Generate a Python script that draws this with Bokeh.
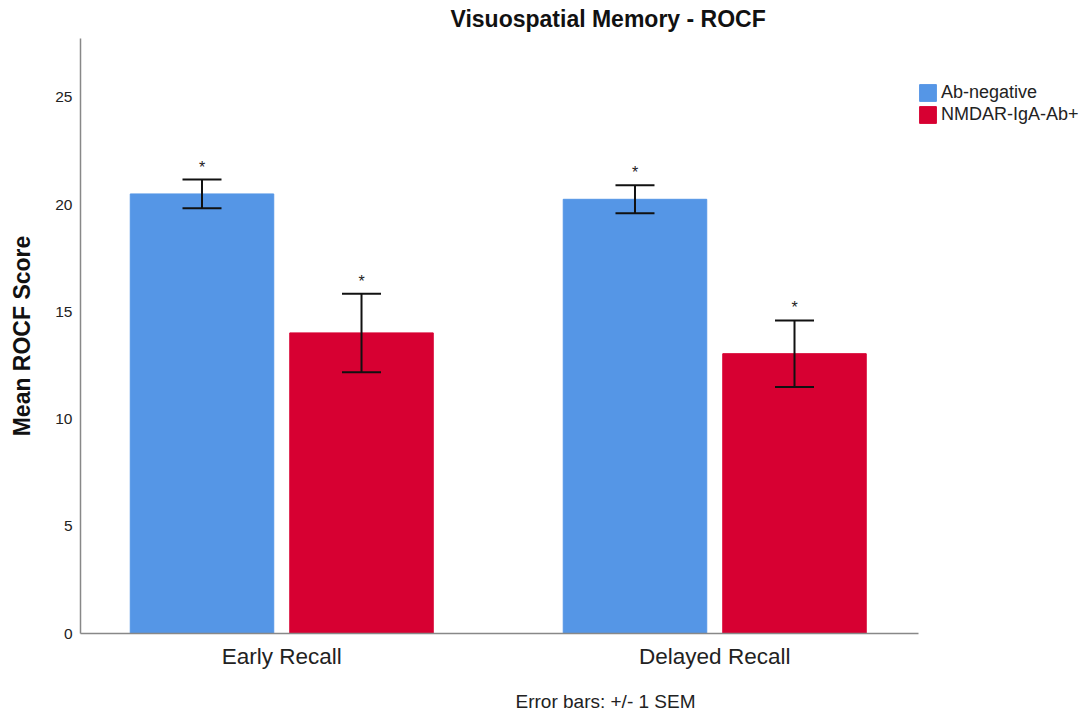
from bokeh.plotting import figure
from bokeh.models import Range1d, FixedTicker, Legend, LegendItem, Title, ColumnDataSource, Whisker
from bokeh.core.properties import value
from bokeh.embed import file_html
from bokeh.resources import INLINE

categories = ["Early Recall", "Delayed Recall"]
groups = ["Ab-negative", "NMDAR-IgA-Ab+"]
ab_negative = [20.5, 20.25]
ab_negative_sem = [0.67, 0.65]
nmdar = [14.02, 13.05]
nmdar_sem = [1.83, 1.55]
colors = ["#5596E6", "#D70032"]
y_ticks = [0, 5, 10, 15, 20, 25]

FONT = "Liberation Sans"
X_START, X_AXIS_END, X_END = -0.4648, 1.4706, 1.8655

p = figure(width=1089, height=711, output_backend="svg", toolbar_location=None,
           x_range=Range1d(X_START, X_END), y_range=Range1d(0, 27.75),
           min_border_left=80, min_border_right=0, min_border_top=38, min_border_bottom=77)
p.title.text = "Visuospatial Memory - ROCF"
p.title.align = "left"
p.title.vertical_align = "top"
p.title.offset = 370
p.title.standoff = 10
p.title.text_font = FONT
p.title.text_font_size = "23px"
p.title.text_font_style = "bold"
p.title.text_color = "#111111"

p.grid.visible = False
p.outline_line_color = None

xs = list(range(len(categories)))
offset = 0.1842
bw = 0.3314
renderers = []
for gi, (vals, sems) in enumerate([(ab_negative, ab_negative_sem), (nmdar, nmdar_sem)]):
    sign = -1 if gi == 0 else 1
    bx = [x + sign * offset for x in xs]
    src = ColumnDataSource(dict(x=bx, top=vals,
                                upper=[v + s for v, s in zip(vals, sems)],
                                lower=[v - s for v, s in zip(vals, sems)],
                                star=["*"] * len(vals)))
    r = p.vbar(x="x", top="top", width=bw, bottom=0, source=src,
               fill_color=colors[gi], line_color=colors[gi], line_width=1)
    renderers.append(r)
    w = Whisker(base="x", upper="upper", lower="lower", source=src,
                line_color="#111111", line_width=2, level="overlay")
    w.upper_head.size = 39
    w.lower_head.size = 39
    w.upper_head.line_width = 2
    w.lower_head.line_width = 2
    w.upper_head.line_color = "#111111"
    w.lower_head.line_color = "#111111"
    p.add_layout(w)
    p.text(x="x", y="upper", text="star", source=src, text_align="center",
           text_baseline="bottom", y_offset=-4, text_font=value(FONT),
           text_font_size="16px", text_color="#222222")

p.xaxis.ticker = FixedTicker(ticks=xs)
p.xaxis.major_label_overrides = {i: c for i, c in enumerate(categories)}
p.xaxis.bounds = (X_START, X_AXIS_END)
p.yaxis.ticker = FixedTicker(ticks=y_ticks)
for ax in (p.xaxis, p.yaxis):
    ax.major_tick_line_color = None
    ax.minor_tick_line_color = None
    ax.major_tick_out = 0
    ax.major_tick_in = 0
    ax.minor_tick_out = 0
    ax.minor_tick_in = 0
    ax.axis_line_color = "#888888"
    ax.axis_line_width = 1.5
    ax.major_label_text_font = FONT
    ax.major_label_text_color = "#222222"
p.xaxis.major_label_text_font_size = "22.5px"
p.xaxis.major_label_standoff = 10
p.yaxis.major_label_text_font_size = "15.5px"
p.yaxis.major_label_standoff = 8
p.yaxis.axis_label = "Mean ROCF Score"
p.yaxis.axis_label_text_font = FONT
p.yaxis.axis_label_text_font_size = "23px"
p.yaxis.axis_label_text_font_style = "bold"
p.yaxis.axis_label_text_color = "#111111"
p.yaxis.axis_label_standoff = 17

legend = Legend(items=[LegendItem(label=g, renderers=[r]) for g, r in zip(groups, renderers)],
                location=(837, 508), label_text_font=FONT, label_text_font_size="18px",
                label_text_color="#222222", border_line_color=None, background_fill_alpha=0,
                glyph_width=21, glyph_height=21, label_height=21, spacing=1,
                padding=0, margin=0, label_standoff=3)
p.add_layout(legend, "center")

spacer = Title(text=" ", text_font=FONT, text_font_size="10px", standoff=4)
p.add_layout(spacer, "below")

footer = Title(text="Error bars: +/- 1 SEM", align="left", vertical_align="bottom", offset=435,
               text_font=FONT, text_font_size="19px", text_color="#222222",
               text_font_style="normal", standoff=0)
p.add_layout(footer, "below")

open("out.html", "w").write(file_html(p, INLINE))
